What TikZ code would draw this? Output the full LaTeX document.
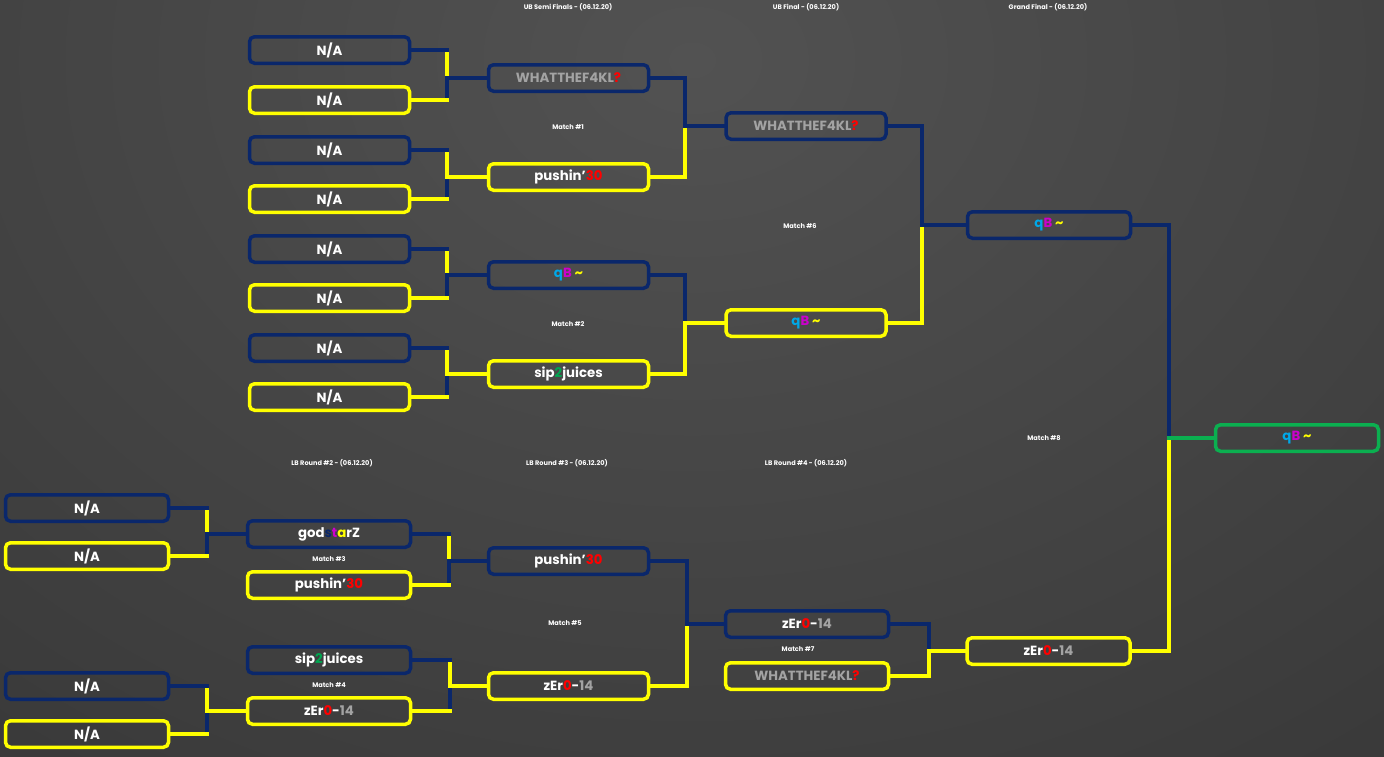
\documentclass[tikz,border=0pt]{standalone}
\usepackage{fontspec}
\setmainfont{Poppins}
\definecolor{bg}{HTML}{363636}
\definecolor{bgl}{HTML}{525252}
\definecolor{nv}{HTML}{0A276B}
\definecolor{yl}{HTML}{FFFF00}
\definecolor{gn}{HTML}{0BAF50}
\definecolor{gy}{HTML}{A3A3A3}
\definecolor{rd}{HTML}{FF0000}
\definecolor{cy}{HTML}{00A8E8}
\definecolor{mg}{HTML}{CC00CC}
\definecolor{gr}{HTML}{00A650}
\newcommand\wtf{{\color{gy}WHATTHEF4KL}{\color{rd}?}}
\newcommand\psh{pushin’{\color{rd}30}}
\newcommand\qbt{{\color{cy}q}{\color{mg}B} {\color{yl}\symbol{"7E}}}
\newcommand\sip{sip{\color{gr}2}juices}
\newcommand\zer{zEr{\color{rd}0}-{\color{gy}14}}
\newcommand\gsz{god{\color{nv}s}{\color{mg}t}{\color{yl}a}rZ}
\newcommand\mt[9]{%
  \coordinate (xa) at (#4,0);
  \coordinate (jm) at (xa |- #3.west);
  \draw[ln,#6] (xa |- #1.east) -- (jm);
  \draw[ln,#8] (xa |- #2.east) -- (jm);
  \draw[ln,#5] (#1.east) -- (xa |- #1.east);
  \draw[ln,#7] (#2.east) -- (xa |- #2.east);
  \draw[ln,#9] (jm) -- (#3.west);
}
\begin{document}
\begin{tikzpicture}[x=1pt,y=-1pt,
  box/.style={draw, rounded corners=5pt, line width=3.5pt, minimum width=160pt,
    minimum height=26.5pt, inner sep=0pt, text=white,
    font=\bfseries\fontsize{13.3}{13.3}\selectfont},
  nb/.style={box, draw=nv}, yb/.style={box, draw=yl}, gb/.style={box, draw=gn},
  wide/.style={minimum width=163pt},
  hdr/.style={text=white, font=\bfseries\fontsize{6.6}{8}\selectfont},
  ln/.style={line width=3.5pt, line cap=rect}]
\begin{scope}
\clip (0,0) rectangle (1384,756);
\fill[bg] (0,0) rectangle (1384,756);
\shade[inner color=bgl, outer color=bg] (692,60) ellipse (1300 and 1000);
\end{scope}
\useasboundingbox (0,0) rectangle (1384,756);
% headers
\node[hdr] (h1) at (568,7) {UB Semi Finals - (06.12.20)};
\node[hdr] (h2) at (806,7) {UB Final - (06.12.20)};
\node[hdr] (h3) at (1048,7) {Grand Final - (06.12.20)};
\node[hdr] (h4) at (332,463) {LB Round \#2 - (06.12.20)};
\node[hdr] (h5) at (567,463) {LB Round \#3 - (06.12.20)};
\node[hdr] (h6) at (806,463) {LB Round \#4 - (06.12.20)};
\node[hdr] (m1l) at (568,127) {Match \#1};
\node[hdr] (m2l) at (568,324) {Match \#2};
\node[hdr] (m3l) at (329,559) {Match \#3};
\node[hdr] (m4l) at (329,685) {Match \#4};
\node[hdr] (m5l) at (565,623) {Match \#5};
\node[hdr] (m6l) at (800,226) {Match \#6};
\node[hdr] (m7l) at (798,649) {Match \#7};
\node[hdr] (m8l) at (1044,438) {Match \#8};
% UB round 1
\node[nb] (u1) at (329.5,50) {N/A};
\node[yb] (u2) at (329.5,100) {N/A};
\node[nb] (u3) at (329.5,150) {N/A};
\node[yb] (u4) at (329.5,199) {N/A};
\node[nb] (u5) at (329.5,249) {N/A};
\node[yb] (u6) at (329.5,298) {N/A};
\node[nb] (u7) at (329.5,348) {N/A};
\node[yb] (u8) at (329.5,397) {N/A};
% UB semis
\node[nb] (s1) at (568.5,78) {\wtf};
\node[yb] (s2) at (568.5,177) {\psh};
\node[nb] (s3) at (568.5,275) {\qbt};
\node[yb] (s4) at (568.5,374) {\sip};
% UB final
\node[nb] (f1) at (806,126) {\wtf};
\node[yb] (f2) at (806,323) {\qbt};
% grand final
\node[nb, wide] (g1) at (1049,225) {\qbt};
\node[gb, wide] (w) at (1297,438) {\qbt};
% LB round 1
\node[nb, wide] (l1) at (87,508) {N/A};
\node[yb, wide] (l2) at (87,556) {N/A};
\node[nb, wide] (l3) at (87,686) {N/A};
\node[yb, wide] (l4) at (87,734) {N/A};
% LB round 2
\node[nb, wide] (a1) at (329,534) {\gsz};
\node[yb, wide] (a2) at (329,585) {\psh};
\node[nb, wide] (a3) at (329,660) {\sip};
\node[yb, wide] (a4) at (329,711) {\zer};
% LB round 3
\node[nb] (b1) at (568.5,561) {\psh};
\node[yb] (b2) at (568.5,686) {\zer};
% LB round 4
\node[nb, wide] (c1) at (807,624) {\zer};
\node[yb, wide] (c2) at (807,676) {\wtf};
% LB final
\node[yb, wide] (g2) at (1048.5,651) {\zer};
% connectors
\mt{u1}{u2}{s1}{447}{nv}{yl}{yl}{nv}{nv}
\mt{u3}{u4}{s2}{447}{nv}{yl}{yl}{nv}{yl}
\mt{u5}{u6}{s3}{447}{nv}{yl}{yl}{nv}{nv}
\mt{u7}{u8}{s4}{447}{nv}{yl}{yl}{nv}{yl}
\mt{s1}{s2}{f1}{685}{nv}{nv}{yl}{yl}{nv}
\mt{s3}{s4}{f2}{685}{nv}{nv}{yl}{yl}{yl}
\mt{f1}{f2}{g1}{922}{nv}{nv}{yl}{yl}{nv}
\mt{l1}{l2}{a1}{207}{nv}{yl}{yl}{nv}{nv}
\mt{l3}{l4}{a4}{207}{nv}{yl}{yl}{nv}{yl}
\mt{a1}{a2}{b1}{449}{nv}{yl}{yl}{nv}{nv}
\mt{a3}{a4}{b2}{450}{nv}{yl}{yl}{nv}{yl}
\mt{b1}{b2}{c1}{687}{nv}{nv}{yl}{yl}{nv}
\mt{c1}{c2}{g2}{929}{nv}{nv}{yl}{yl}{yl}
\mt{g1}{g2}{w}{1169}{nv}{nv}{yl}{yl}{gn}
\end{tikzpicture}
\end{document}
